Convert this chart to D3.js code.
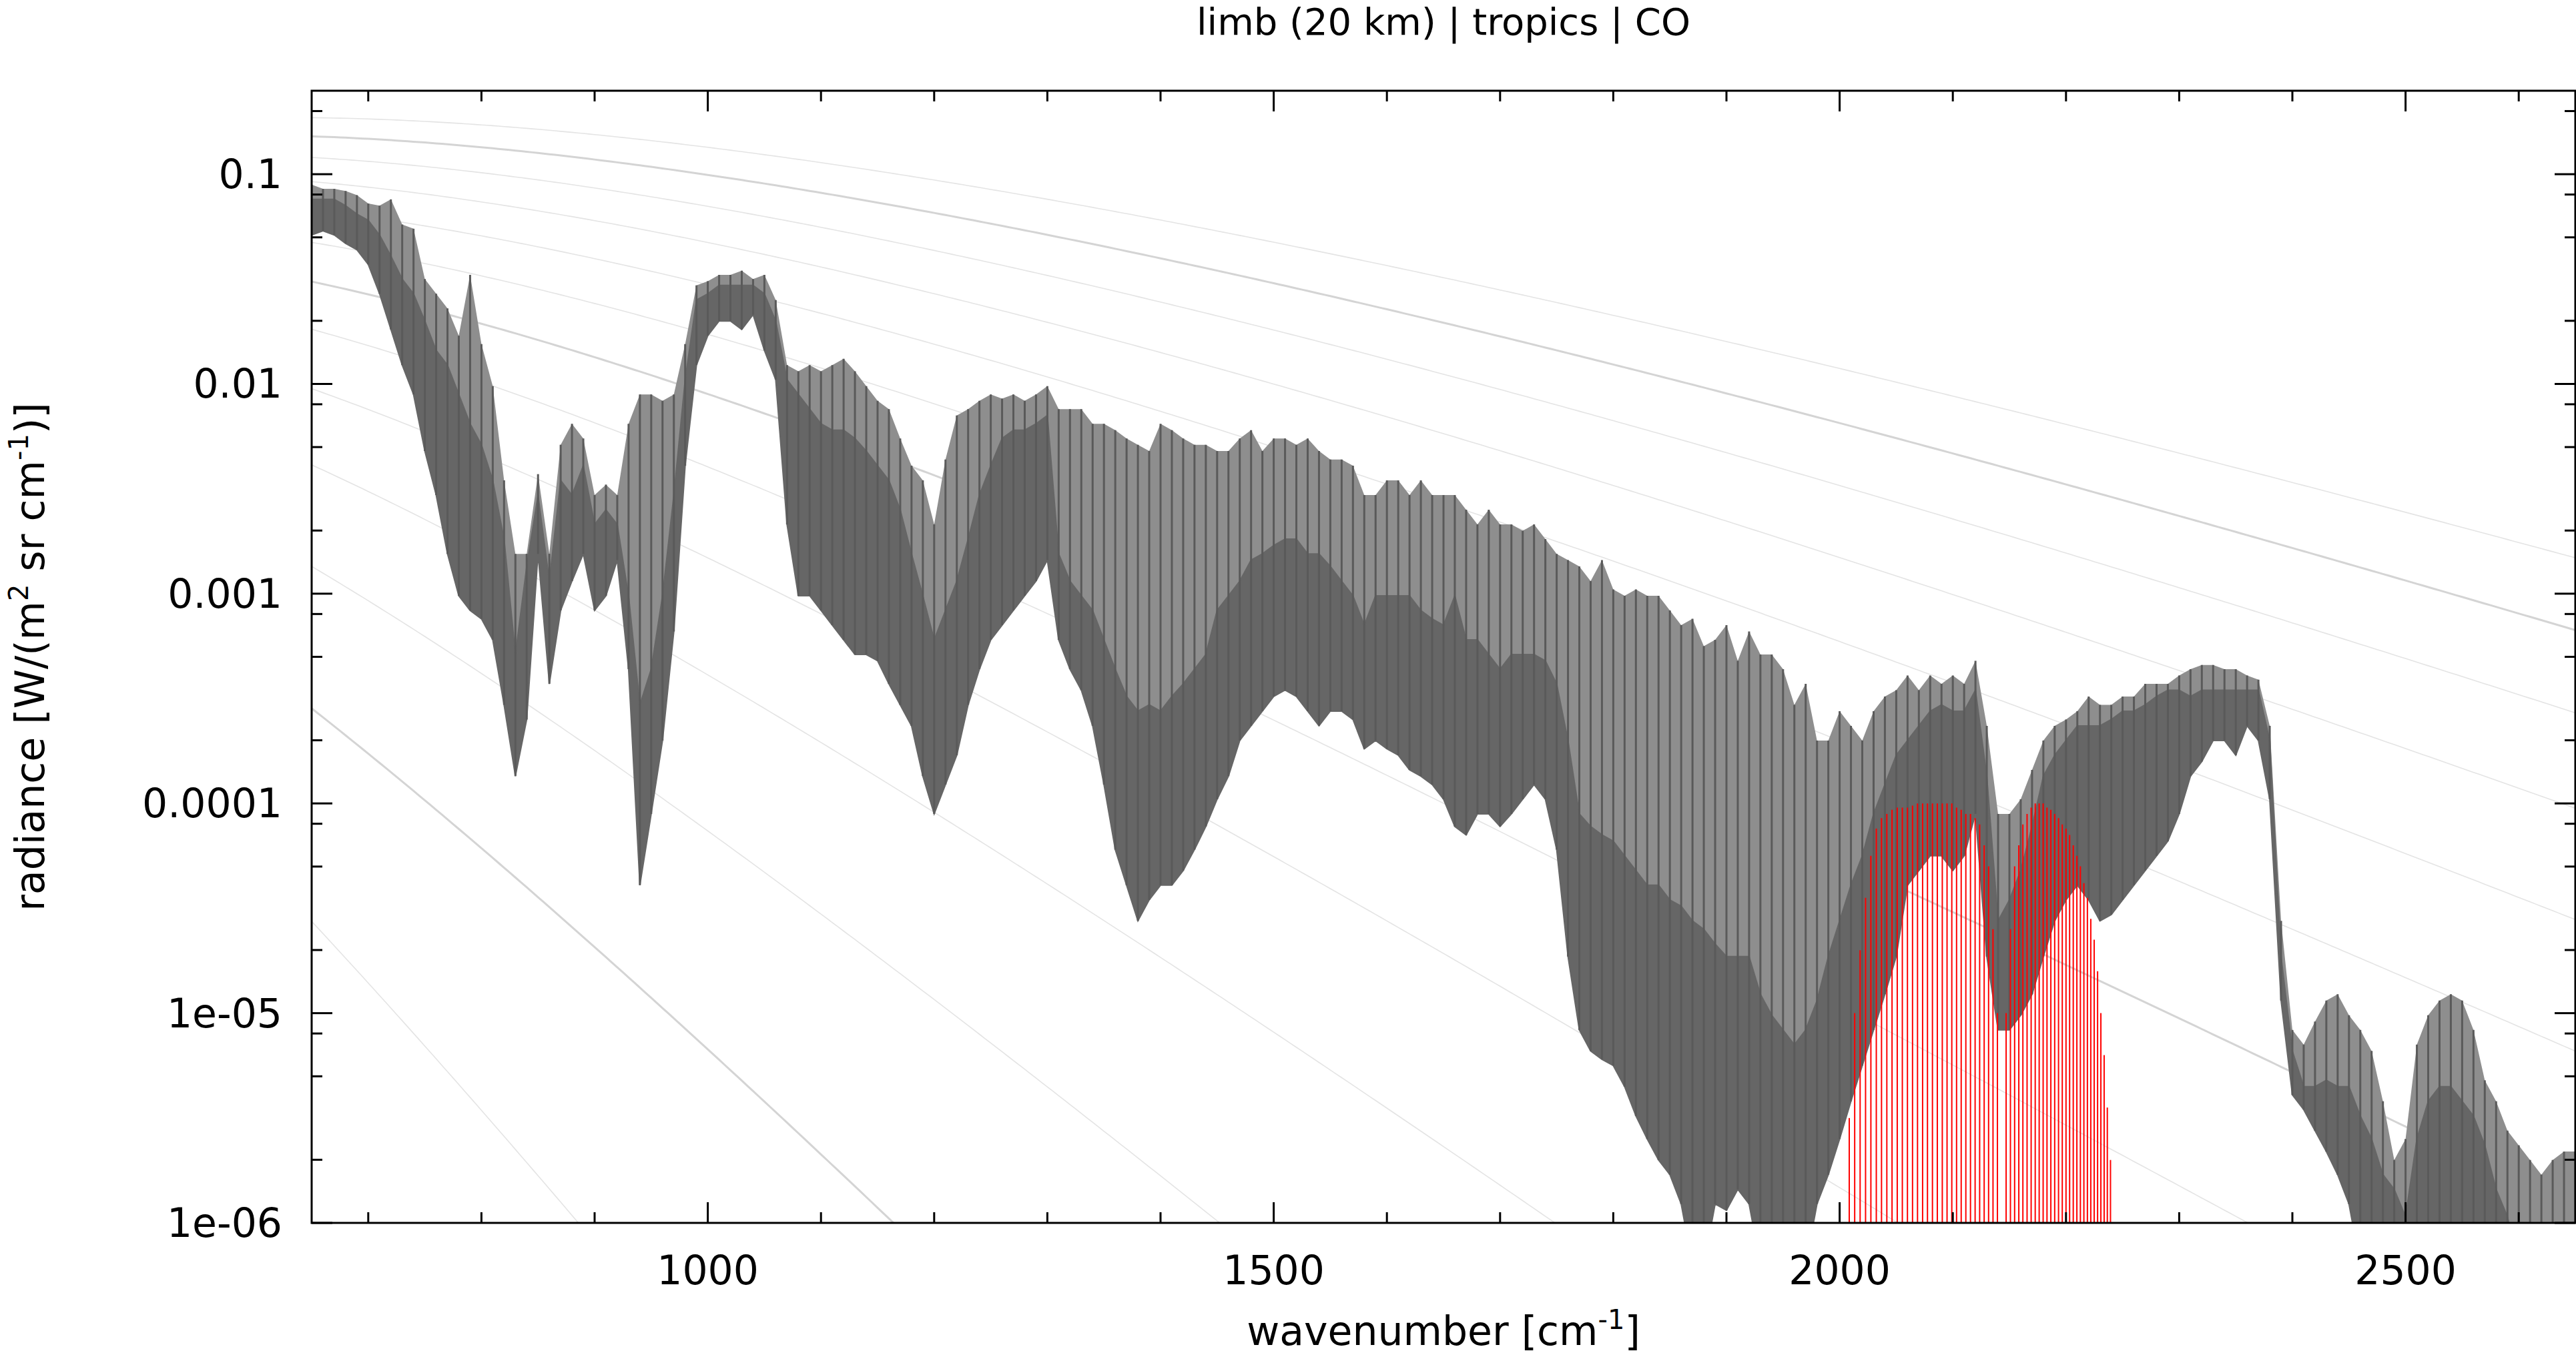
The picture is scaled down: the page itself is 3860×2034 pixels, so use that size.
<!DOCTYPE html>
<html><head><meta charset="utf-8">
<script src="https://cdn.jsdelivr.net/npm/d3@7"></script>
<style>body{margin:0;background:#fff}text{font-family:"DejaVu Sans",sans-serif}</style>
</head><body><svg id="c" width="3860" height="2034"></svg>
<script>
// wavenumber grid [cm-1]
const wavenumbers = d3.range(650, 2651, 10);
// log10 radiance: bottom of dense band
const logLow = [-1.29,-1.27,-1.29,-1.33,-1.36,-1.43,-1.57,-1.74,-1.91,-2.05,-2.32,-2.53,-2.81,-3.01,-3.08,-3.12,-3.22,-3.53,-3.87,-3.60,-2.81,-3.43,-3.08,-2.94,-2.81,-3.08,-3.01,-2.84,-3.36,-4.39,-4.05,-3.70,-3.18,-2.39,-1.91,-1.77,-1.70,-1.70,-1.74,-1.67,-1.84,-1.98,-2.67,-3.01,-3.01,-3.08,-3.15,-3.22,-3.29,-3.29,-3.32,-3.43,-3.53,-3.63,-3.87,-4.05,-3.91,-3.77,-3.53,-3.36,-3.22,-3.15,-3.08,-3.01,-2.94,-2.84,-3.22,-3.36,-3.46,-3.63,-3.91,-4.22,-4.39,-4.56,-4.46,-4.39,-4.39,-4.32,-4.22,-4.11,-3.98,-3.87,-3.70,-3.63,-3.56,-3.49,-3.46,-3.49,-3.56,-3.63,-3.56,-3.56,-3.60,-3.74,-3.70,-3.74,-3.77,-3.84,-3.87,-3.91,-3.98,
-4.11,-4.15,-4.05,-4.05,-4.11,-4.05,-3.98,-3.91,-3.98,-4.22,-4.73,-5.08,-5.18,-5.22,-5.25,-5.35,-5.49,-5.60,-5.70,-5.77,-5.91,-6.2,-6.2,-5.91,-5.94,-5.84,-5.91,-6.2,-6.2,-6.2,-6.2,-6.2,-5.91,-5.77,-5.60,-5.42,-5.25,-5.08,-4.91,-4.73,-4.39,-4.32,-4.25,-4.25,-4.32,-4.25,-4.05,-4.73,-5.08,-5.08,-5.01,-4.91,-4.73,-4.56,-4.46,-4.39,-4.46,-4.56,-4.53,-4.46,-4.39,-4.32,-4.25,-4.18,-4.05,-3.87,-3.80,-3.70,-3.70,-3.77,-3.63,-3.70,-3.98,-4.94,-5.39,-5.46,-5.56,-5.66,-5.77,-5.91,-6.2,-6.2,-6.2,-6.2,-6.2,-6.2,-6.2,-6.2,-6.2,-6.2,-6.2,-6.2,-6.2,-6.2,-6.2,-6.2,-6.2,-6.2,-6.2,-6.2];
// log10 radiance: top of dense band
const logHigh = [-1.12,-1.12,-1.12,-1.15,-1.19,-1.22,-1.29,-1.39,-1.50,-1.57,-1.70,-1.84,-1.91,-2.05,-2.19,-2.29,-2.46,-2.74,-3.29,-2.87,-2.53,-2.94,-2.46,-2.53,-2.39,-2.67,-2.60,-2.67,-3.01,-3.53,-3.36,-3.01,-2.53,-1.98,-1.60,-1.57,-1.53,-1.53,-1.53,-1.53,-1.57,-1.70,-1.98,-2.05,-2.12,-2.19,-2.22,-2.22,-2.26,-2.32,-2.39,-2.46,-2.60,-2.81,-3.01,-3.22,-3.08,-2.94,-2.74,-2.53,-2.39,-2.26,-2.22,-2.22,-2.19,-2.15,-2.81,-2.94,-3.01,-3.08,-3.22,-3.36,-3.49,-3.56,-3.53,-3.56,-3.49,-3.43,-3.36,-3.29,-3.08,-3.01,-2.94,-2.84,-2.81,-2.77,-2.74,-2.74,-2.81,-2.81,-2.87,-2.94,-3.01,-3.15,-3.01,-3.01,-3.01,-3.01,-3.08,-3.12,-3.15,
-3.01,-3.22,-3.22,-3.29,-3.36,-3.29,-3.29,-3.29,-3.32,-3.43,-3.70,-4.05,-4.11,-4.15,-4.18,-4.25,-4.32,-4.39,-4.39,-4.46,-4.49,-4.56,-4.60,-4.67,-4.73,-4.73,-4.73,-4.91,-5.01,-5.08,-5.15,-5.08,-4.94,-4.73,-4.56,-4.39,-4.25,-4.05,-3.91,-3.77,-3.70,-3.63,-3.56,-3.53,-3.56,-3.56,-3.46,-3.87,-4.56,-4.46,-4.32,-4.11,-3.87,-3.77,-3.70,-3.63,-3.63,-3.63,-3.60,-3.56,-3.56,-3.53,-3.49,-3.46,-3.46,-3.49,-3.46,-3.46,-3.46,-3.46,-3.46,-3.46,-3.70,-4.73,-5.18,-5.35,-5.35,-5.32,-5.35,-5.35,-5.49,-5.60,-5.77,-5.84,-5.97,-5.60,-5.42,-5.35,-5.35,-5.42,-5.49,-5.63,-5.84,-5.97,-6.2,-6.2,-6.2,-6.2,-6.2,-6.2];
// log10 radiance: tops of the sparse line peaks
const logPeak = [-1.05,-1.07,-1.07,-1.08,-1.10,-1.14,-1.15,-1.12,-1.24,-1.26,-1.50,-1.57,-1.64,-1.77,-1.48,-1.81,-2.01,-2.46,-2.81,-2.81,-2.43,-2.81,-2.29,-2.19,-2.26,-2.53,-2.48,-2.53,-2.19,-2.05,-2.05,-2.08,-2.05,-1.81,-1.53,-1.51,-1.48,-1.48,-1.46,-1.50,-1.48,-1.60,-1.91,-1.94,-1.91,-1.94,-1.91,-1.88,-1.94,-2.01,-2.08,-2.12,-2.26,-2.39,-2.46,-2.67,-2.36,-2.15,-2.12,-2.08,-2.05,-2.07,-2.05,-2.08,-2.05,-2.01,-2.12,-2.12,-2.12,-2.19,-2.19,-2.22,-2.26,-2.29,-2.32,-2.19,-2.22,-2.26,-2.29,-2.29,-2.32,-2.32,-2.26,-2.22,-2.32,-2.26,-2.26,-2.29,-2.26,-2.32,-2.36,-2.36,-2.39,-2.53,-2.53,-2.46,-2.46,-2.53,-2.46,-2.53,-2.53,
-2.53,-2.60,-2.67,-2.60,-2.67,-2.67,-2.70,-2.67,-2.74,-2.81,-2.84,-2.87,-2.94,-2.84,-2.98,-3.01,-2.98,-3.01,-3.01,-3.08,-3.15,-3.12,-3.25,-3.22,-3.15,-3.32,-3.18,-3.29,-3.29,-3.36,-3.53,-3.43,-3.70,-3.70,-3.56,-3.63,-3.70,-3.56,-3.49,-3.46,-3.39,-3.46,-3.39,-3.43,-3.39,-3.43,-3.32,-3.63,-4.05,-4.05,-3.98,-3.84,-3.70,-3.63,-3.60,-3.56,-3.49,-3.53,-3.53,-3.49,-3.49,-3.43,-3.43,-3.43,-3.39,-3.36,-3.34,-3.34,-3.36,-3.36,-3.39,-3.41,-3.63,-4.56,-5.08,-5.15,-5.04,-4.94,-4.91,-5.01,-5.08,-5.18,-5.42,-5.70,-5.60,-5.15,-5.01,-4.94,-4.91,-4.94,-5.08,-5.32,-5.42,-5.56,-5.63,-5.70,-5.77,-5.70,-5.66,-5.66];
// CO line positions [cm-1] and log10 peak radiance
const coLines = [2008.5,2013.3,2018.1,2022.9,2027.6,2032.4,2037.0,2041.7,2046.3,2050.9,2055.4,2059.9,2064.4,2068.8,2073.3,2077.6,2082.0,2086.3,2090.7,2094.9,2099.1,2103.3,2107.4,2111.5,2115.6,2119.7,2123.7,2127.7,2131.6,2135.5,2139.4,2147.1,2150.9,2154.6,2158.3,2161.9,2165.6,2169.2,2172.8,2176.3,2179.8,2183.2,2186.6,2190.0,2193.4,2196.7,2200.0,2203.2,2206.4,2209.6,2212.7,2215.8,2218.9,2221.9,2224.9,2227.9,2230.8,2233.7,2236.5,2239.3];
const coLogPeak = [-5.5,-5.0,-4.7,-4.45,-4.25,-4.12,-4.07,-4.05,-4.03,-4.02,-4.02,-4.02,-4.01,-4.0,-4.0,-4.0,-4.0,-4.0,-4.0,-4.0,-4.0,-4.02,-4.03,-4.05,-4.05,-4.07,-4.1,-4.2,-4.3,-4.6,-5.0,-5.0,-4.6,-4.3,-4.2,-4.1,-4.05,-4.02,-4.0,-4.0,-4.0,-4.02,-4.03,-4.05,-4.07,-4.1,-4.12,-4.15,-4.2,-4.25,-4.3,-4.38,-4.45,-4.55,-4.65,-4.8,-5.0,-5.2,-5.45,-5.7];
// Planck reference temperatures [K]
const temperatures = [80,100,120,140,160,180,200,220,240,260,280,300,320];
const xTicksMajor = [1000,1500,2000,2500];
const yTickLabels = ["0.1","0.01","0.001","0.0001","1e-05","1e-06"];
const yTickValues = [1e-1,1e-2,1e-3,1e-4,1e-5,1e-6];

const svg = d3.select("#c");
const L=467,R=3859,T=136,B=1833;
const x = d3.scaleLinear().domain([650,2650]).range([L,R]);
const y = d3.scaleLog().domain([1e-6,0.25]).range([B,T]);
svg.append("clipPath").attr("id","cp").append("rect").attr("x",L).attr("y",T).attr("width",R-L).attr("height",B-T);
const g = svg.append("g").attr("clip-path","url(#cp)");

const planck=(nu,Tk)=>1.191042e-8*nu*nu*nu/(Math.exp(1.4387769*nu/Tk)-1);
const nuGrid = d3.range(650,2651,5);
temperatures.forEach(Tk=>{
  const strong = Tk%100===0;
  g.append("path").datum(nuGrid.filter(n=>planck(n,Tk)>3e-7))
   .attr("fill","none").attr("stroke",strong?"#d4d4d4":"#e4e4e4").attr("stroke-width",strong?3:1.6)
   .attr("d",d3.line().x(n=>x(n)).y(n=>y(planck(n,Tk))));
});

const spec = wavenumbers.map((w,i)=>({w,lo:Math.pow(10,logLow[i]),hi:Math.pow(10,logHigh[i]),pk:Math.pow(10,logPeak[i])}));
g.append("path").datum(spec).attr("fill","#8e8e8e")
 .attr("d",d3.area().x(d=>x(d.w)).y0(d=>y(d.hi)).y1(d=>y(d.pk)));
g.append("path").datum(spec).attr("fill","#666").attr("stroke","#666").attr("stroke-width",2)
 .attr("d",d3.area().x(d=>x(d.w)).y0(d=>y(d.lo)).y1(d=>y(d.hi)));
g.selectAll("line.sp").data(spec).join("line").attr("class","sp")
 .attr("x1",d=>x(d.w)).attr("x2",d=>x(d.w)).attr("y1",d=>y(d.lo)).attr("y2",d=>y(d.pk))
 .attr("stroke","#5a5a5a").attr("stroke-width",3);
g.selectAll("line.co").data(coLines.map((w,i)=>({w,v:Math.pow(10,coLogPeak[i])}))).join("line").attr("class","co")
 .attr("x1",d=>x(d.w)).attr("x2",d=>x(d.w)).attr("y1",B).attr("y2",d=>y(d.v))
 .attr("stroke","#f00").attr("stroke-width",2);

svg.append("rect").attr("x",L).attr("y",T).attr("width",R-L).attr("height",B-T).attr("fill","none").attr("stroke","#000").attr("stroke-width",3);
const tk = svg.append("g").attr("stroke","#000").attr("stroke-width",3);
d3.range(700,2651,100).forEach(v=>{
  const len = v%500===0?31:16;
  tk.append("line").attr("x1",x(v)).attr("x2",x(v)).attr("y1",B).attr("y2",B-len);
  tk.append("line").attr("x1",x(v)).attr("x2",x(v)).attr("y1",T).attr("y2",T+len);
});
const yMinor=[];
for(let e=-6;e<=-1;e++){[2,5,8].forEach(m=>{const v=m*Math.pow(10,e);if(v<=0.25)yMinor.push(v);});}
yMinor.forEach(v=>{
  tk.append("line").attr("x1",L).attr("x2",L+16).attr("y1",y(v)).attr("y2",y(v));
  tk.append("line").attr("x1",R).attr("x2",R-16).attr("y1",y(v)).attr("y2",y(v));
});
yTickValues.forEach(v=>{
  tk.append("line").attr("x1",L).attr("x2",L+31).attr("y1",y(v)).attr("y2",y(v));
  tk.append("line").attr("x1",R).attr("x2",R-31).attr("y1",y(v)).attr("y2",y(v));
});
const fs=60;
xTicksMajor.forEach(v=>svg.append("text").attr("x",x(v)).attr("y",B+92).attr("text-anchor","middle").attr("font-size",fs).text(v));
yTickValues.forEach((v,i)=>svg.append("text").attr("x",L-44).attr("y",y(v)+21).attr("text-anchor","end").attr("font-size",fs).text(yTickLabels[i]));
svg.append("text").attr("x",(L+R)/2).attr("y",52).attr("text-anchor","middle").attr("font-size",56).text("limb (20 km) | tropics | CO");
const xl=svg.append("text").attr("x",(L+R)/2).attr("y",2016).attr("text-anchor","middle").attr("font-size",fs);
xl.append("tspan").text("wavenumber [cm");
xl.append("tspan").attr("dy",-24).attr("font-size",40).text("-1");
xl.append("tspan").attr("dy",24).text("]");
const yl=svg.append("text").attr("transform",`translate(66,${(T+B)/2}) rotate(-90)`).attr("text-anchor","middle").attr("font-size",fs);
yl.append("tspan").text("radiance [W/(m");
yl.append("tspan").attr("dy",-24).attr("font-size",40).text("2");
yl.append("tspan").attr("dy",24).text(" sr cm");
yl.append("tspan").attr("dy",-24).attr("font-size",40).text("-1");
yl.append("tspan").attr("dy",24).text(")]");
</script></body></html>
